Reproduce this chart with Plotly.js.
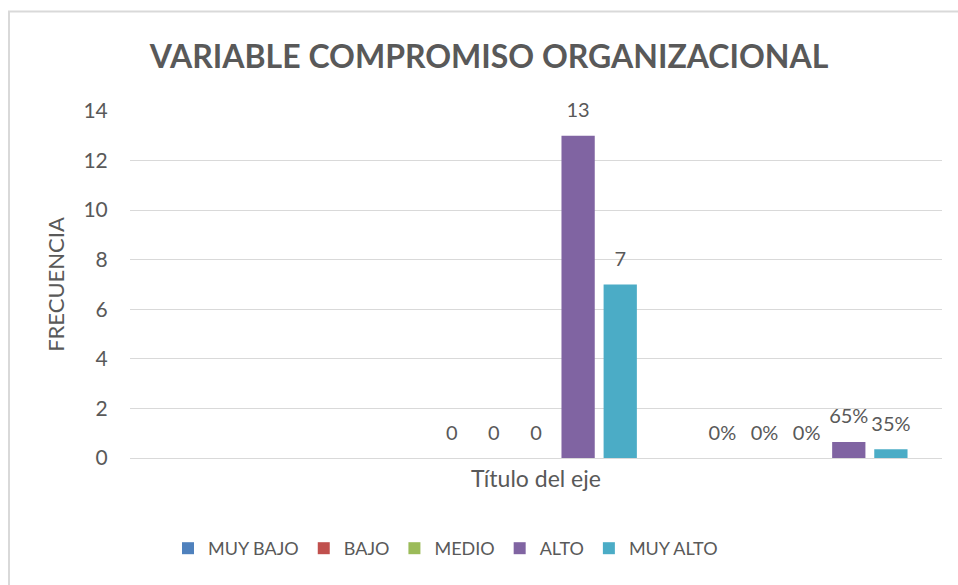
<!DOCTYPE html>
<html>
<head>
<meta charset="utf-8">
<script src="https://cdn.plot.ly/plotly-3.0.1.min.js"></script>
<style>
  html, body { margin: 0; padding: 0; background: #ffffff; }
  #chart { width: 958px; height: 585px; }
</style>
</head>
<body>
<div id="chart"></div>
<script>
// ---- Data ----
const categories = ["Categoría 1", "Frecuencia", "Porcentaje"];
const seriesNames = ["MUY BAJO", "BAJO", "MEDIO", "ALTO", "MUY ALTO"];
const muyBajo = [null, 0, 0];
const bajo    = [null, 0, 0];
const medio   = [null, 0, 0];
const alto    = [null, 13, 0.65];
const muyAlto = [null, 7, 0.35];
const muyBajoLabels = ["", "0", "0%"];
const bajoLabels    = ["", "0", "0%"];
const medioLabels   = ["", "0", "0%"];
const altoLabels    = ["", "13", "65%"];
const muyAltoLabels = ["", "7", "35%"];
const yTicks = [0, 2, 4, 6, 8, 10, 12, 14];

const seriesValues = [muyBajo, bajo, medio, alto, muyAlto];
const seriesLabels = [muyBajoLabels, bajoLabels, medioLabels, altoLabels, muyAltoLabels];
const colors = ["#4f81bd", "#c0504d", "#9bbb59", "#8064a2", "#4bacc6"];

const FONT = "Lato, 'Open Sans', sans-serif";
const GRAY = "#595959";

const traces = [];
seriesNames.forEach((name, i) => {
  traces.push({
    type: "bar",
    name: name,
    x: categories,
    y: seriesValues[i],
    offsetgroup: "g" + i,
    marker: { color: colors[i] },
    hoverinfo: "x+y+name"
  });
});
seriesNames.forEach((name, i) => {
  traces.push({
    type: "scatter",
    mode: "markers+text",
    name: name,
    x: categories,
    y: seriesValues[i],
    text: seriesLabels[i],
    offsetgroup: "g" + i,
    textposition: "top center",
    textfont: { family: FONT, size: 20, color: GRAY },
    marker: { size: 20, color: "rgba(0,0,0,0)" },
    showlegend: false,
    hoverinfo: "skip",
    cliponaxis: false
  });
});

const layout = {
  width: 958,
  height: 585,
  margin: { l: 130, r: 16, t: 111, b: 127 },
  paper_bgcolor: "#ffffff",
  plot_bgcolor: "#ffffff",
  font: { family: FONT, color: GRAY },
  title: {
    text: "<b>VARIABLE COMPROMISO ORGANIZACIONAL</b>",
    font: { family: FONT, size: 32, color: GRAY },
    xref: "container", x: 489 / 958, xanchor: "center",
    yref: "container", y: 1 - 57 / 585, yanchor: "middle"
  },
  barmode: "group",
  bargap: 0.222,
  bargroupgap: 0.21,
  scattermode: "group",
  scattergap: 0.222,
  xaxis: {
    type: "category",
    showticklabels: false,
    showgrid: false,
    zeroline: false,
    showline: false,
    ticks: "",
    title: { text: "Título del eje", font: { family: FONT, size: 23, color: GRAY }, standoff: 12 },
    automargin: false,
    fixedrange: true
  },
  yaxis: {
    range: [0, 14],
    tickvals: yTicks,
    ticktext: yTicks.map(String),
    tickfont: { family: FONT, size: 21, color: GRAY },
    ticks: "outside",
    ticklen: 17,
    tickcolor: "rgba(0,0,0,0)",
    showgrid: true,
    gridcolor: "#d9d9d9",
    gridwidth: 1,
    zeroline: true,
    zerolinecolor: "#d9d9d9",
    zerolinewidth: 1,
    showline: false,
    title: { text: "FRECUENCIA", font: { family: FONT, size: 22, color: GRAY }, standoff: 12 },
    automargin: false,
    fixedrange: true
  },
  legend: {
    orientation: "h",
    x: (168 - 130) / 812,
    xanchor: "left",
    y: (458.5 - 549) / 347,
    yanchor: "middle",
    font: { family: FONT, size: 18, color: GRAY },
    bgcolor: "rgba(0,0,0,0)",
    traceorder: "normal"
  },
  shapes: [
    {
      type: "path",
      xref: "paper", yref: "paper",
      path: "M " + ((9 - 130) / 812) + "," + ((458.5 - 700) / 347) +
            " L " + ((9 - 130) / 812) + "," + ((458.5 - 12) / 347) +
            " L " + ((1000 - 130) / 812) + "," + ((458.5 - 12) / 347),
      line: { color: "#d9d9d9", width: 2 },
      layer: "below"
    }
  ],
  showlegend: true
};

Plotly.newPlot("chart", traces, layout, { displayModeBar: false, staticPlot: true });
</script>
</body>
</html>
